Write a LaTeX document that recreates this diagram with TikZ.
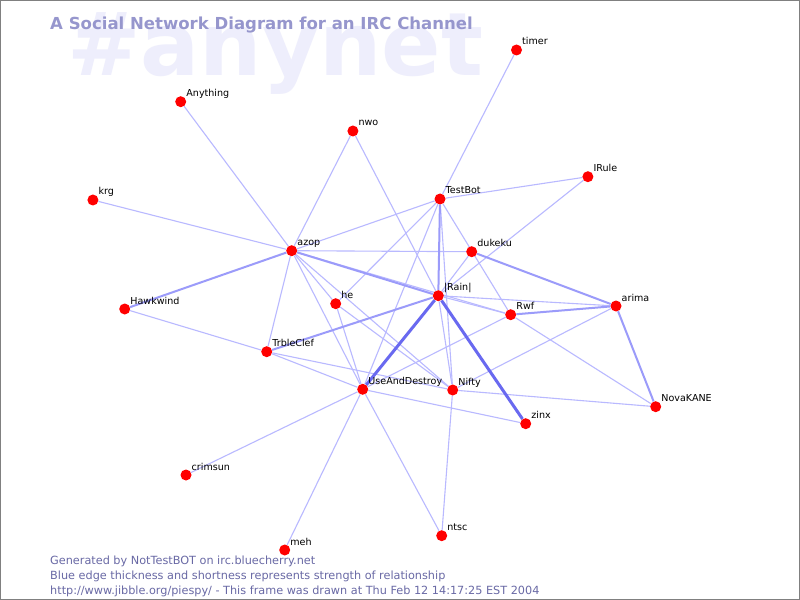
\documentclass[tikz,border=0pt]{standalone}
\usepackage{fontspec}
\setmainfont{DejaVu Sans}
\usetikzlibrary{backgrounds}
\definecolor{wm}{RGB}{238,238,252}
\definecolor{ttl}{RGB}{150,150,205}
\definecolor{foot}{RGB}{105,105,165}
\definecolor{ecA}{RGB}{185,185,255}
\definecolor{ecB}{RGB}{155,155,250}
\definecolor{ecC}{RGB}{105,105,240}
\definecolor{framec}{RGB}{128,128,128}
\begin{document}
\begin{tikzpicture}[x=1bp,y=-1bp,
  dot/.style={circle,fill=red,draw=none,inner sep=0pt,minimum size=11bp},
  lbl/.style={anchor=base west,inner sep=0pt,font=\fontsize{9.6}{11}\selectfont},
  ewA/.style={draw=ecA,line width=1.1bp},
  ewB/.style={draw=ecB,line width=2bp},
  ewC/.style={draw=ecC,line width=3bp},
  foottxt/.style={anchor=base west,inner sep=0pt,text=foot,font=\fontsize{11.3}{13}\selectfont}]
\useasboundingbox (0,0) rectangle (800,600);
% nodes
\node[dot] (timer) at (516.5,50) {};
\node[dot] (anything) at (180.7,101.7) {};
\node[dot] (nwo) at (352.9,131) {};
\node[dot] (irule) at (587.9,176.7) {};
\node[dot] (krg) at (92.9,200) {};
\node[dot] (testbot) at (440,199) {};
\node[dot] (azop) at (291.7,250.7) {};
\node[dot] (dukeku) at (471.7,251.7) {};
\node[dot] (hawkwind) at (124.7,309) {};
\node[dot] (he) at (335.7,303.7) {};
\node[dot] (rain) at (438.3,295.7) {};
\node[dot] (rwf) at (510.7,314.7) {};
\node[dot] (arima) at (616,306) {};
\node[dot] (trbleclef) at (266.7,351.7) {};
\node[dot] (useand) at (362.7,389.3) {};
\node[dot] (nifty) at (452.7,390) {};
\node[dot] (novakane) at (655.7,406.7) {};
\node[dot] (zinx) at (525.7,423.7) {};
\node[dot] (crimsun) at (186,475) {};
\node[dot] (ntsc) at (441.7,535.7) {};
\node[dot] (meh) at (284.7,550) {};
% labels
\foreach \n/\t in {timer/timer,anything/Anything,nwo/nwo,irule/IRule,krg/krg,testbot/TestBot,azop/azop,dukeku/dukeku,hawkwind/Hawkwind,he/he,rain/{|Rain|},rwf/Rwf,arima/arima,trbleclef/TrbleClef,useand/UseAndDestroy,nifty/Nifty,novakane/NovaKANE,zinx/zinx,crimsun/crimsun,ntsc/ntsc,meh/meh}
  \node[lbl] (l\n) at ([shift={(5.5,-5)}]\n.center) {\t};
\begin{scope}[on background layer]
  \fill[white] (0,0) rectangle (800,600);
  \node[anchor=base west,inner sep=0pt,text=wm,font=\bfseries\fontsize{88}{92}\selectfont] (wmark) at (67,76) {\#anynet};
  \node[anchor=base west,inner sep=0pt,text=ttl,font=\bfseries\fontsize{16.6}{18}\selectfont] (title) at (50,29.5) {A Social Network Diagram for an IRC Channel};
  % thin edges
  \foreach \a/\b in {azop/anything,azop/krg,azop/nwo,azop/testbot,azop/dukeku,azop/trbleclef,azop/rwf,azop/he,azop/useand,azop/nifty,
    testbot/timer,testbot/irule,testbot/rwf,testbot/he,testbot/useand,testbot/nifty,
    nwo/rain,irule/rain,dukeku/rain,rain/rwf,rain/arima,rain/nifty,
    rwf/novakane,rwf/useand,arima/nifty,nifty/novakane,nifty/ntsc,
    useand/crimsun,useand/meh,useand/ntsc,useand/he,useand/trbleclef,useand/zinx,
    trbleclef/hawkwind,trbleclef/nifty,he/nifty}
    \draw[ewA] (\a) -- (\b);
  % medium edges
  \foreach \a/\b in {azop/hawkwind,azop/rain,testbot/rain,dukeku/arima,rwf/arima,arima/novakane,trbleclef/rain}
    \draw[ewB] (\a) -- (\b);
  % heavy edges
  \draw[ewC] (rain) -- (useand);
  \draw[ewC] (rain) -- (zinx);
\end{scope}
% footer
\node[foottxt] (f1) at (50,564) {Generated by NotTestBOT on irc.bluecherry.net};
\node[foottxt] (f2) at (50,579) {Blue edge thickness and shortness represents strength of relationship};
\node[foottxt] (f3) at (50,594) {http://www.jibble.org/piespy/ - This frame was drawn at Thu Feb 12 14:17:25 EST 2004};
\draw[framec,line width=1.5bp] (0.75,0.75) rectangle (799.25,599.25);
\end{tikzpicture}
\end{document}
